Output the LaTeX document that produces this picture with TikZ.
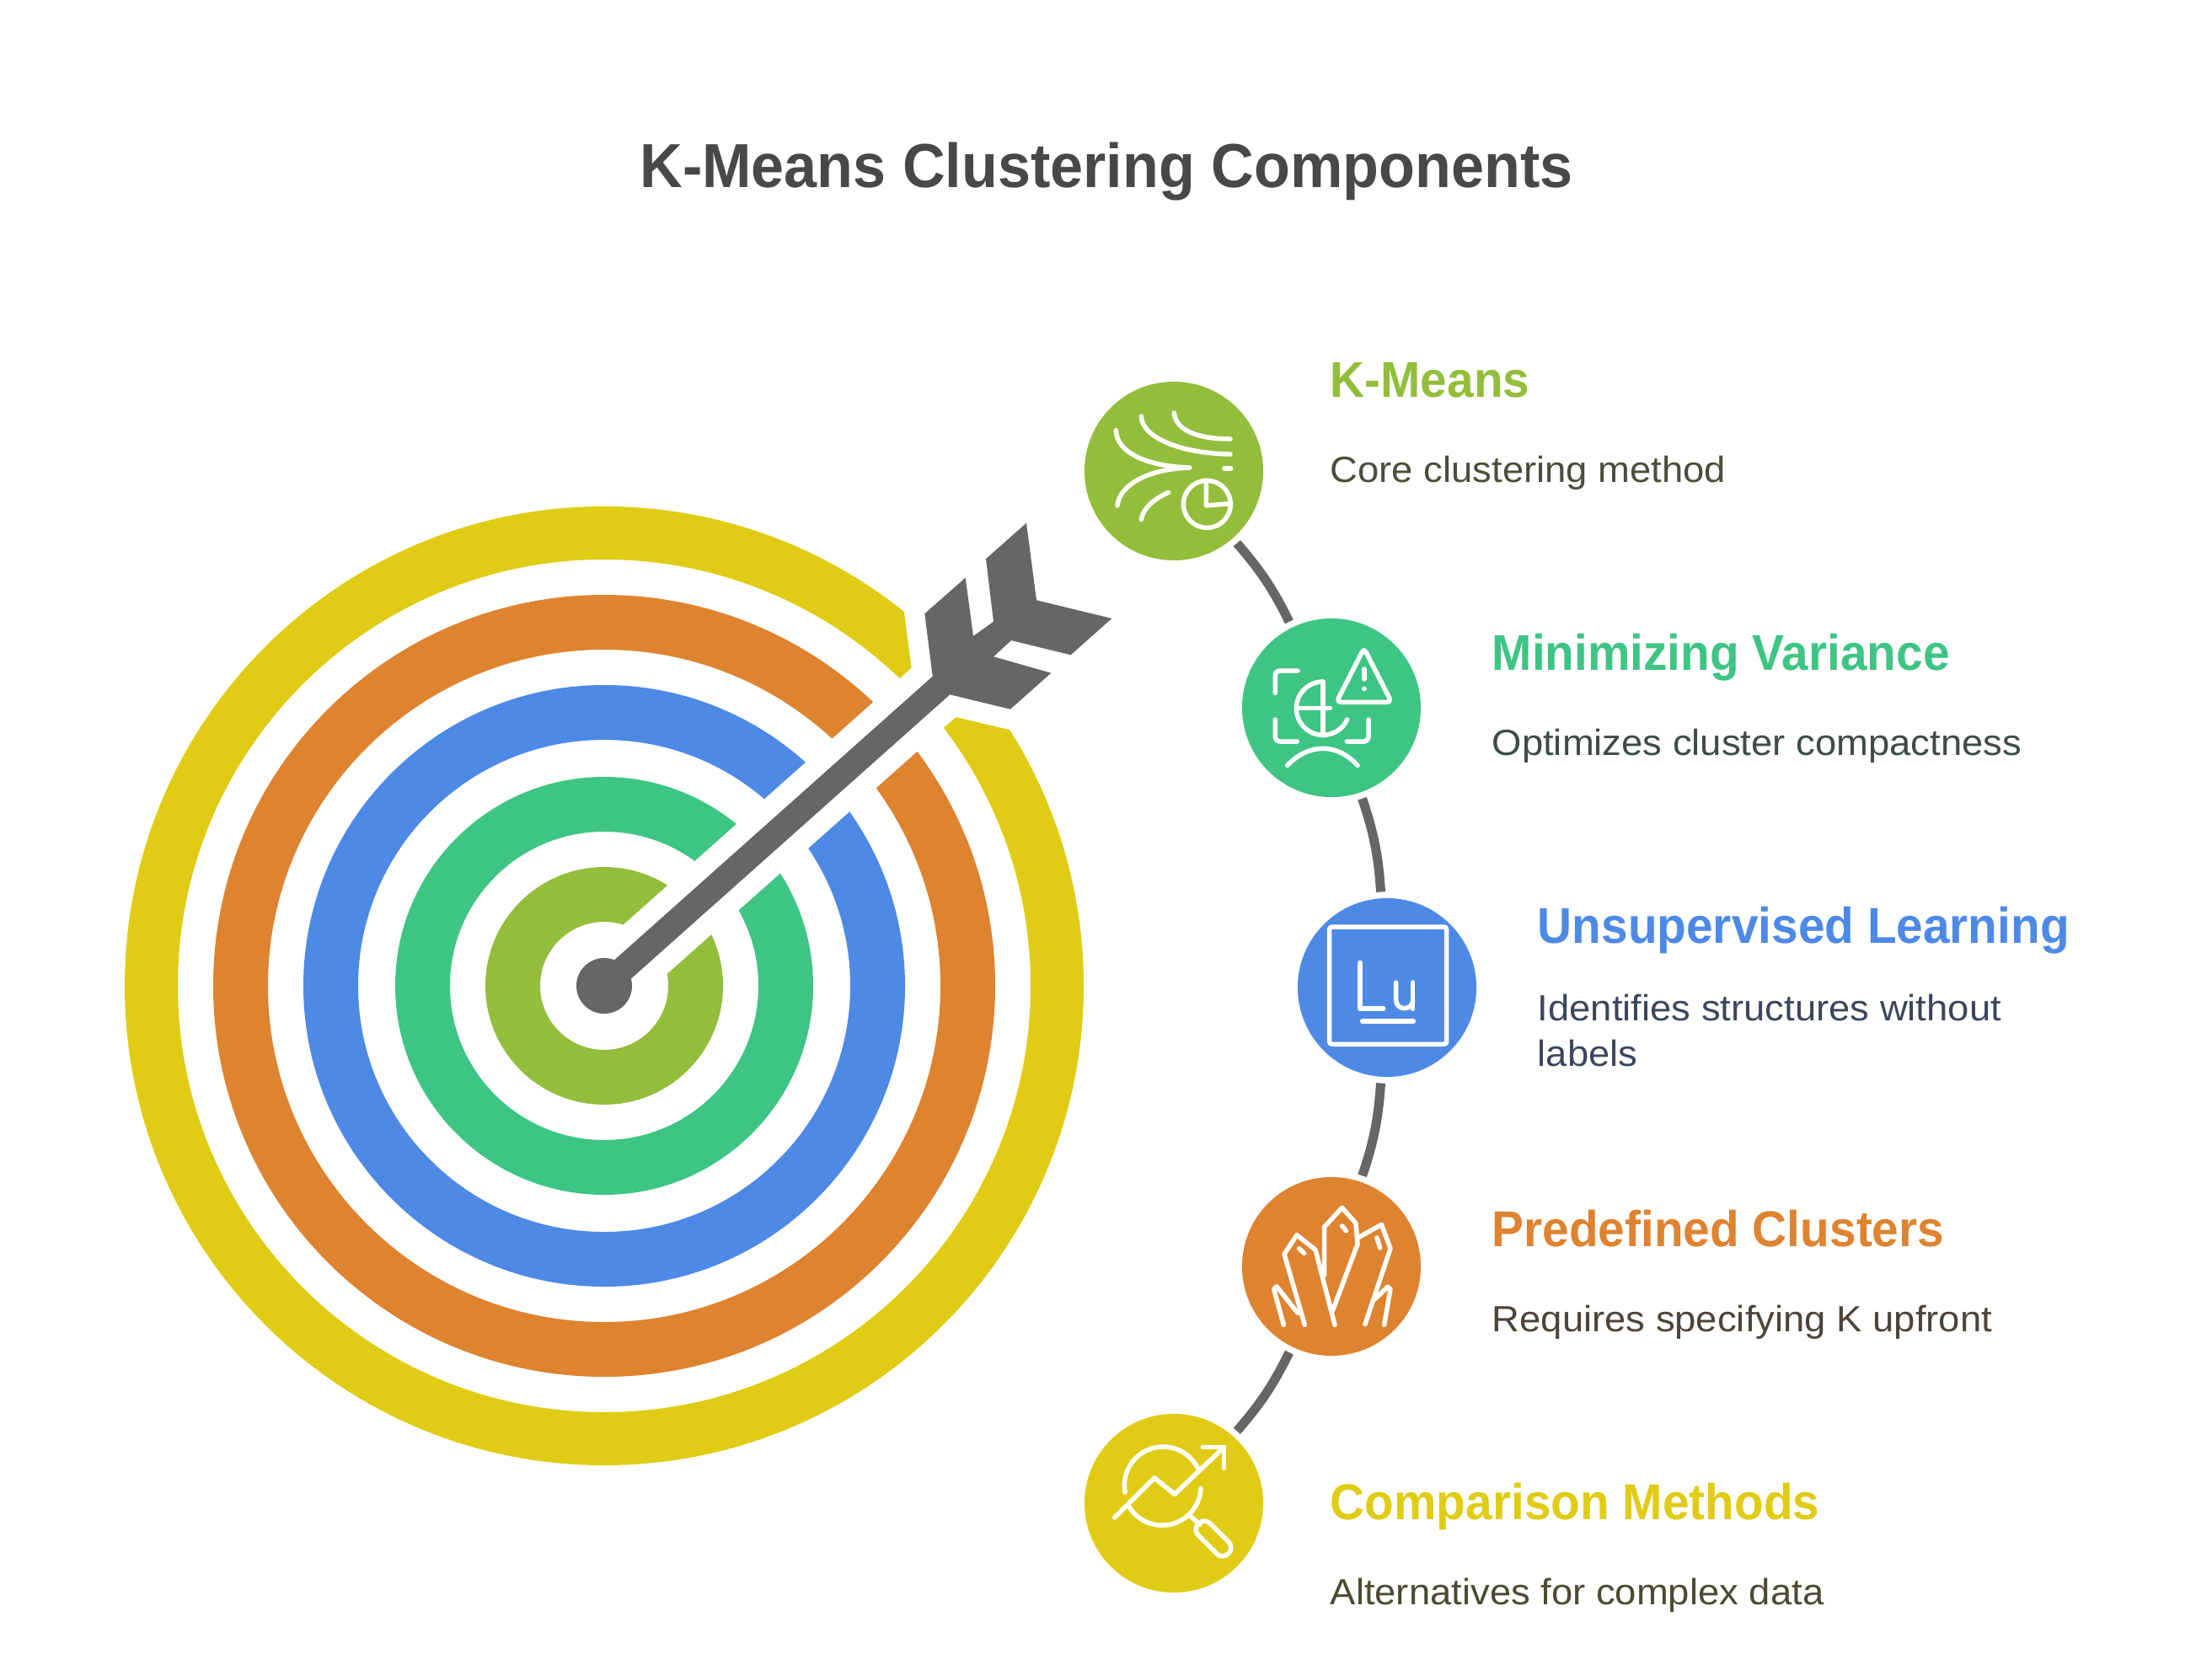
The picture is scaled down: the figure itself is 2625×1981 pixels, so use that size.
\documentclass[tikz,border=0pt]{standalone}
\usepackage{fontspec}
\usepackage{xcolor}
\setmainfont{Liberation Sans}
\newfontfamily\headfont[FakeStretch=0.95]{Liberation Sans}
\newfontfamily\bodyfont[FakeStretch=1.05]{Liberation Sans}
\usetikzlibrary{arrows,positioning}

\definecolor{limec}{HTML}{93BE3B}
\definecolor{greenc}{HTML}{3EC584}
\definecolor{bluec}{HTML}{4E89E6}
\definecolor{orangec}{HTML}{DE8330}
\definecolor{yellowc}{HTML}{E0CC14}
\definecolor{arrowc}{HTML}{666666}
\definecolor{titlec}{HTML}{484848}
\definecolor{limetext}{HTML}{4A4E3A}
\definecolor{greentext}{HTML}{3E4B47}
\definecolor{bluetext}{HTML}{3B465C}
\definecolor{orangetext}{HTML}{4E4338}
\definecolor{yellowtext}{HTML}{4C4A32}

\tikzset{
	badge/.style={circle,fill=#1,minimum size=2.12cm,inner sep=0pt},
	link/.style={draw=arrowc,line width=0.11cm,shorten >=0.07cm,shorten <=0.07cm},
	glyph/.style={draw=white,line width=0.055cm,line cap=round,line join=round},
	headtext/.style={anchor=base west,inner sep=0pt,text=#1,font=\headfont\fontsize{17}{20}\bfseries\selectfont},
	bodytext/.style={anchor=base west,inner sep=0pt,text=#1,align=left,font=\bodyfont\fontsize{12.3}{15.25}\selectfont}
}

\begin{document}
\begin{tikzpicture}[x=0.01cm,y=-0.01cm]

	\useasboundingbox (0,0) rectangle (2625,1981);
	\fill[white] (0,0) rectangle (2625,1981);

	\coordinate (T) at (717,1170);

	% target rings
	\foreach \col/\ro/\ri in {yellowc/569/506,orangec/464/399,bluec/357/292,greenc/248/183,limec/141/76}
		\fill[\col,even odd rule] (T) circle[radius=\ro] (T) circle[radius=\ri];

	\fill[white] (691,1141) -- (1081.7,792.7) -- (1065,665) -- (1330,600) -- (1270,883)
		-- (1134.3,851) -- (743,1199) -- cycle;

	% arrow
	\node[circle,fill=arrowc,minimum size=0.66cm,inner sep=0pt] (hub) at (T) {};
	\fill[arrowc] (707,1159) -- (1106.7,802.7) -- (1097.3,728.3) -- (1145.7,685.7) -- (1155,755)
		-- (1179,737.7) -- (1170,663.3) -- (1218,620.7) -- (1230,712.3) -- (1319.3,734)
		-- (1270.7,777.3) -- (1200,760) -- (1179,779.3) -- (1247.3,798.7) -- (1199,841.7)
		-- (1127.3,824.3) -- (727,1181) -- cycle;

	% badges
	\node[badge=limec]    (kmeans) at (1393,559)  {};
	\node[badge=greenc]   (minvar) at (1580,840)  {};
	\node[badge=bluec]    (unsup)  at (1646,1172) {};
	\node[badge=orangec]  (predef) at (1580,1503) {};
	\node[badge=yellowc]  (compar) at (1393,1784) {};

	\path[link] (kmeans) edge[bend left=7.5] (minvar)
		(minvar) edge[bend left=7.5] (unsup)
		(unsup) edge[bend left=7.5] (predef)
		(predef) edge[bend left=7.5] (compar);

	% icon of kmeans
	\begin{scope}[shift={(1270,440)},scale=1/3]
		\draw[glyph] (163,212) .. controls (165,290) and (270,340) .. (425,345);
		\draw[glyph] (168,480) .. controls (175,410) and (270,350) .. (425,345);
		\draw[glyph] (253,162) .. controls (255,240) and (400,295) .. (570,297);
		\draw[glyph] (370,150) .. controls (375,210) and (450,243) .. (570,243);
		\draw[glyph] (253,530) .. controls (258,490) and (300,455) .. (350,433);
		\draw[glyph] (548,348) -- (572,348);
		\draw[glyph] (487,475) circle[radius=84];
		\draw[glyph] (484,395) -- (484,480) -- (572,473);
	\end{scope}

	% icon of minvar
	\begin{scope}[shift={(1460,720)},scale=1/3]
		\draw[glyph,rounded corners=0.05cm] (240,228) -- (160,228) -- (160,307);
		\draw[glyph,rounded corners=0.05cm] (160,402) -- (160,480) -- (238,480);
		\draw[glyph,rounded corners=0.05cm] (492,402) -- (492,480) -- (415,480);
		\draw[glyph] (330,267) arc[start angle=-90,end angle=-335,radius=95];
		\draw[glyph] (330,267) -- (330,458);
		\draw[glyph] (238,362) -- (355,362);
		\draw[glyph,rounded corners=0.05cm] (476,148) -- (574,340) -- (378,340) -- cycle;
		\draw[glyph] (477,222) -- (477,258);
		\draw[glyph] (477,292) -- (477,293);
		\draw[glyph] (203,565) .. controls (280,485) and (380,485) .. (453,565);
	\end{scope}

	% icon of unsup
	\begin{scope}[shift={(1520,1050)},scale=1/3]
		\draw[glyph,rounded corners=0.03cm] (173,150) rectangle (590,568);
		\draw[glyph] (282,277) -- (282,441) -- (365,441);
		\draw[glyph] (410,348) -- (410,410) .. controls (410,450) and (470,450) .. (470,410);
		\draw[glyph] (470,348) -- (470,442);
		\draw[glyph] (290,486) -- (472,486);
	\end{scope}

	% icon of predef
	\begin{scope}[shift={(1460,1380)},scale=1/3]
		\draw[glyph] (265,577) -- (192,325) -- (237,257) -- (303,310) -- (372,577);
		\draw[glyph] (335,400) -- (335,228) -- (398,160) -- (447,215) -- (453,290) -- (365,525);
		\draw[glyph] (458,265) -- (538,220) -- (570,305) -- (480,575);
		\draw[glyph] (548,577) -- (570,450) -- (560,442) -- (515,485);
		\draw[glyph] (190,577) -- (155,450) -- (165,440) -- (240,535);
		\draw[glyph] (245,305) -- (263,322);
		\draw[glyph] (398,225) -- (412,242);
		\draw[glyph] (522,267) -- (533,303);
	\end{scope}

	% icon of compar
	\begin{scope}[shift={(1270,1660)},scale=1/3]
		\draw[glyph] (195,333) arc[start angle=170,end angle=333,radius=138];
		\draw[glyph] (465,320) arc[start angle=3,end angle=150,radius=138];
		\draw[glyph] (158,423) -- (300,282) -- (372,340) -- (548,172);
		\draw[glyph] (472,172) -- (548,172) -- (548,247);
		\draw[glyph] (430,420) -- (462,448);
		\draw[glyph,rounded corners=0.09cm] (542,572) -- (584,530) -- (478,424) -- (436,466) -- cycle;
	\end{scope}

	% texts
	\node[anchor=base,inner sep=0pt,text=titlec,font=\headfont\fontsize{21}{25}\bfseries\selectfont] (title) at (1313,222.7) {K-Means Clustering Components};

	\node[headtext=limec]   (kmeanshead) at (1578,471)  {K-Means};
	\node[bodytext=limetext] (kmeansbody) at (1578,572) {Core clustering method};
	\node[headtext=greenc]  (minvarhead) at (1770,795)  {Minimizing Variance};
	\node[bodytext=greentext] (minvarbody) at (1770,896) {Optimizes cluster compactness};
	\node[headtext=bluec]   (unsuphead)  at (1824,1119) {Unsupervised Learning};
	\node[bodytext=bluetext] (unsupbody) at (1824,1265) {Identifies structures without\\labels};
	\node[headtext=orangec] (predefhead) at (1770,1479) {Predefined Clusters};
	\node[bodytext=orangetext] (predefbody) at (1770,1580) {Requires specifying K upfront};
	\node[headtext=yellowc] (comparhead) at (1578,1803) {Comparison Methods};
	\node[bodytext=yellowtext] (comparbody) at (1578,1904) {Alternatives for complex data};

\end{tikzpicture}
\end{document}
